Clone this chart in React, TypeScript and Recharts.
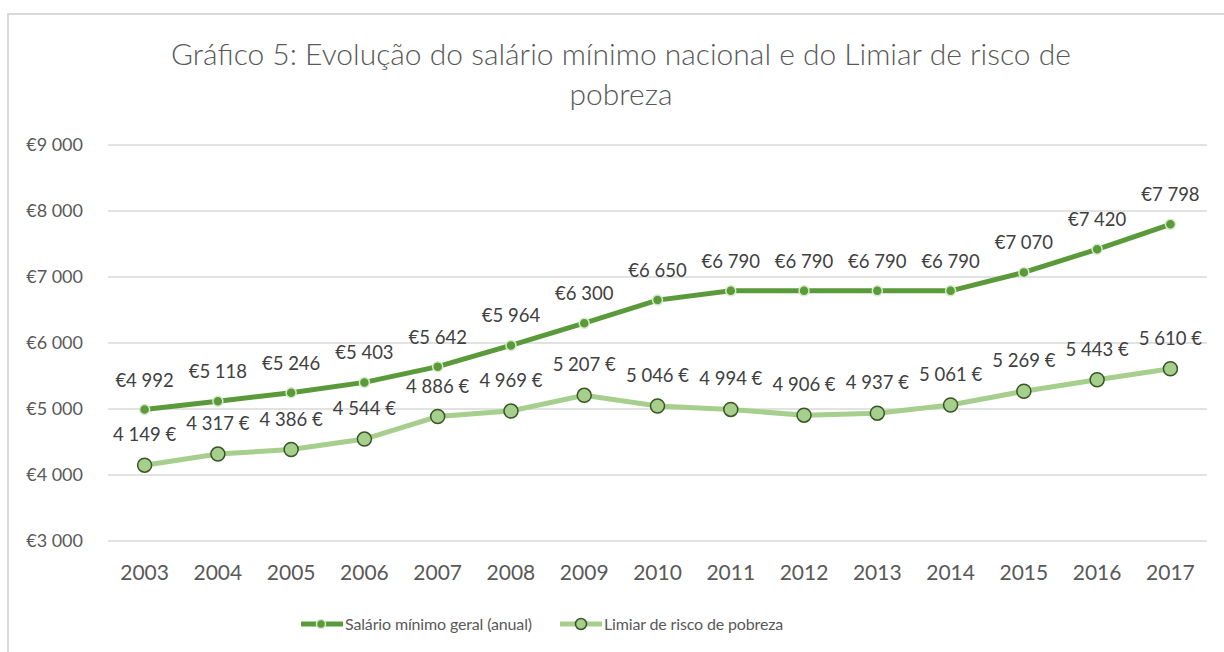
import React from 'react';
import { LineChart, Line, XAxis, YAxis, CartesianGrid, LabelList } from 'recharts';

const years = ['2003','2004','2005','2006','2007','2008','2009','2010','2011','2012','2013','2014','2015','2016','2017'];
const salarioMinimo = [4992, 5118, 5246, 5403, 5642, 5964, 6300, 6650, 6790, 6790, 6790, 6790, 7070, 7420, 7798];
const limiarPobreza = [4149, 4317, 4386, 4544, 4886, 4969, 5207, 5046, 4994, 4906, 4937, 5061, 5269, 5443, 5610];
const yTicks = [3000, 4000, 5000, 6000, 7000, 8000, 9000];

const seriesNames = ['Salário mínimo geral (anual)', 'Limiar de risco de pobreza'];
const titleLines = ['Gráfico 5: Evolução do salário mínimo nacional e do Limiar de risco de', 'pobreza'];

const data = years.map((y, i) => ({ year: y, sal: salarioMinimo[i], lim: limiarPobreza[i] }));

const DARK = '#5B9A3A';
const DARK_MARK_STROKE = '#D5EBC8';
const LIGHT = '#A6CE8D';
const LIGHT_MARK_STROKE = '#375623';
const FONT = 'Lato, "Open Sans", sans-serif';

const fmtThousands = (v: number) => {
  const s = Math.round(v).toString();
  return s.replace(/\B(?=(\d{3})+(?!\d))/g, ' ');
};
const fmtEuroPrefix = (v: any) => '€' + fmtThousands(Number(v));
const fmtEuroSuffix = (v: any) => fmtThousands(Number(v)) + ' €';

const LegendBox = () => (
  <div style={{ position: 'absolute', left: 300, top: 614, display: 'flex', fontFamily: FONT, fontSize: 16, letterSpacing: -0.15, color: '#595959', whiteSpace: 'nowrap' }}>
    <div style={{ display: 'flex', alignItems: 'center', width: 259 }}>
      <svg width={44} height={16}>
        <line x1={1} y1={8} x2={43} y2={8} stroke={DARK} strokeWidth={5} />
        <circle cx={21} cy={8} r={4.5} fill={DARK} stroke={DARK_MARK_STROKE} strokeWidth={1.5} />
      </svg>
      <span style={{ marginLeft: 1 }}>{seriesNames[0]}</span>
    </div>
    <div style={{ display: 'flex', alignItems: 'center' }}>
      <svg width={44} height={16}>
        <line x1={1} y1={8} x2={43} y2={8} stroke={LIGHT} strokeWidth={5} />
        <circle cx={22} cy={8} r={5.5} fill={LIGHT} stroke={LIGHT_MARK_STROKE} strokeWidth={1.5} />
      </svg>
      <span style={{ marginLeft: 1 }}>{seriesNames[1]}</span>
    </div>
  </div>
);

export default function App() {
  return (
    <div style={{ position: 'fixed', left: 0, top: 0, width: 1224, height: 652, overflow: 'hidden', background: '#fff' }}>
      <div style={{ position: 'absolute', left: 7, top: 13, width: 1400, height: 800, border: '2px solid #D9D9D9', boxSizing: 'border-box' }} />
      <div style={{ position: 'absolute', left: 0, top: 0 }}>
        <LineChart width={1224} height={652} data={data} margin={{ top: 145, right: 17, bottom: 0, left: 0 }}>
          <CartesianGrid vertical={false} stroke="#D9D9D9" strokeWidth={1.5} />
          <XAxis
            dataKey="year"
            height={111}
            axisLine={false}
            tickLine={false}
            tickSize={0}
            tickMargin={24}
            padding={{ left: 36.6, right: 36.6 }}
            tick={{ fill: '#595959', fontSize: 21, fontFamily: FONT }}
            interval={0}
          />
          <YAxis
            width={108}
            domain={[3000, 9000]}
            ticks={yTicks}
            axisLine={false}
            tickLine={false}
            tickSize={0}
            tickMargin={25}
            tickFormatter={fmtEuroPrefix}
            tick={{ fill: '#595959', fontSize: 18, fontFamily: FONT }}
          />
          <Line
            dataKey="sal"
            name={seriesNames[0]}
            stroke={DARK}
            strokeWidth={5}
            isAnimationActive={false}
            dot={{ r: 5, fill: DARK, stroke: DARK_MARK_STROKE, strokeWidth: 1.5 }}
            activeDot={false}
          >
            <LabelList dataKey="sal" position="top" offset={23} formatter={fmtEuroPrefix} fill="#404040" fontSize={18.5} fontFamily={FONT} />
          </Line>
          <Line
            dataKey="lim"
            name={seriesNames[1]}
            stroke={LIGHT}
            strokeWidth={5}
            isAnimationActive={false}
            dot={{ r: 7, fill: LIGHT, stroke: LIGHT_MARK_STROKE, strokeWidth: 1.5 }}
            activeDot={false}
          >
            <LabelList dataKey="lim" position="top" offset={24} formatter={fmtEuroSuffix} fill="#404040" fontSize={18.5} fontFamily={FONT} />
          </Line>
        </LineChart>
      </div>
      <LegendBox />
      <div style={{ position: 'absolute', left: 0, top: 33, width: 1242, textAlign: 'center', fontFamily: FONT, fontSize: 30, fontWeight: 300, color: '#595959', lineHeight: '40px' }}>
        <div>{titleLines[0]}</div>
        <div>{titleLines[1]}</div>
      </div>
    </div>
  );
}
